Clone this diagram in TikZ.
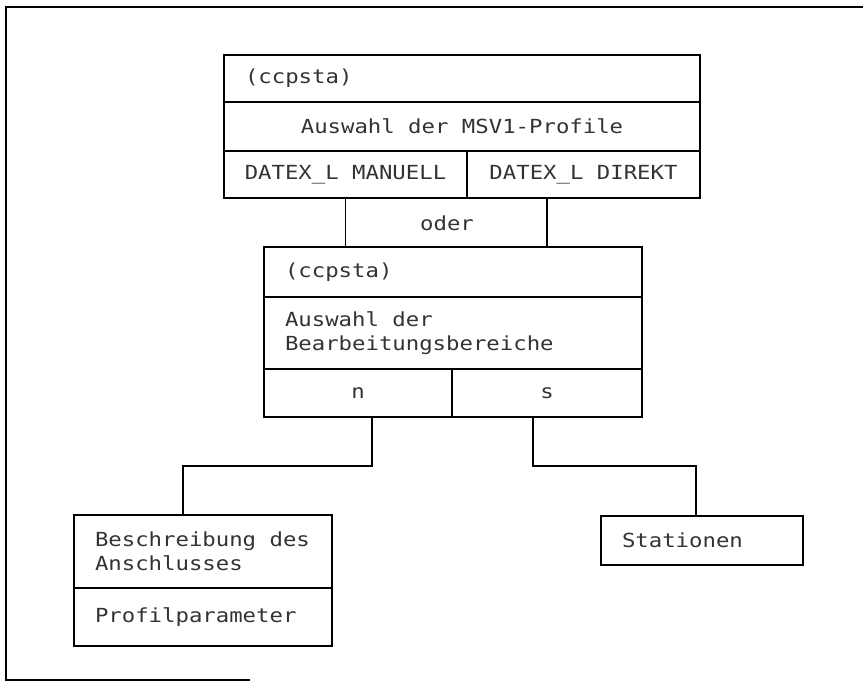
\documentclass[tikz,border=0pt]{standalone}
\usepackage{fontspec}
\newfontfamily\monofont[FakeStretch=1.15]{DejaVu Sans Mono}
\newcommand{\celltext}{\monofont\fontsize{19.4}{24}\selectfont}
\newcommand{\cellspace}{\spaceskip=13.43pt plus 0pt minus 0pt\relax}
\usetikzlibrary{positioning}

\begin{document}
\begin{tikzpicture}[
        x=1pt, y=-1pt,
        cell/.style={draw, rectangle, line width=1.7pt, outer sep=0pt, inner xsep=21pt, inner ysep=0pt,
            font=\celltext, execute at begin node=\cellspace, text=black!80, anchor=north west},
        mid/.style={inner xsep=6pt, align=center},
        tag/.style={font=\celltext, text=black!80},
        wire/.style={line width=1.7pt}
    ]
        \useasboundingbox (0,0) rectangle (863,685);

        % Frame
        \draw[wire] (863,7) -- (6,7) -- (6,680) -- (250,680);

        % Block 1: profile selection
        \node[cell, text width=434pt, minimum height=47pt, align=left] (prof) at (224,55) {(ccpsta)};
        \node[cell, mid, text width=464pt, minimum height=49pt] (profsel) at (prof.south west) {Auswahl der MSV1-Profile};
        \node[cell, mid, text width=231pt, minimum height=47pt] (manuell) at (profsel.south west) {DATEX\_L MANUELL};
        \node[cell, mid, text width=221pt, minimum height=47pt] (direkt) at (manuell.north east) {DATEX\_L DIREKT};

        % Block 2: area selection
        \node[cell, text width=336pt, minimum height=50pt, align=left] (area) at (264,247) {(ccpsta)};
        \node[cell, text width=336pt, minimum height=72pt, align=left] (areasel) at (area.south west) {Auswahl der\\Bearbeitungsbereiche};
        \node[cell, mid, text width=176pt, minimum height=48pt] (nbox) at (areasel.south west) {n};
        \node[cell, mid, text width=178pt, minimum height=48pt] (sbox) at (nbox.north east) {s};

        % oder
        \draw[wire] (manuell.south) -- (manuell.south |- area.north);
        \draw[wire] (sbox.north |- direkt.south) -- (sbox.north |- area.north);
        \node[tag] (oder) at (447,223) {oder};

        % Block 3: leaves
        \node[cell, text width=216pt, minimum height=73pt, align=left] (conn) at (74,515) {Beschreibung des\\Anschlusses};
        \node[cell, text width=216pt, minimum height=58pt, align=left] (param) at (conn.south west) {Profilparameter};
        \node[cell, text width=160pt, minimum height=49pt, align=left] (stat) at (601,516) {Stationen};

        % Branches
        \coordinate (nfork) at (372,466);
        \coordinate (nleg) at (183,466);
        \coordinate (sfork) at (533,466);
        \coordinate (sleg) at (696,466);
        \draw[wire] (nfork |- nbox.south) -- (nfork) -- (nleg) -- (nleg |- conn.north);
        \draw[wire] (sfork |- sbox.south) -- (sfork) -- (sleg) -- (sleg |- stat.north);
    \end{tikzpicture}
\end{document}
